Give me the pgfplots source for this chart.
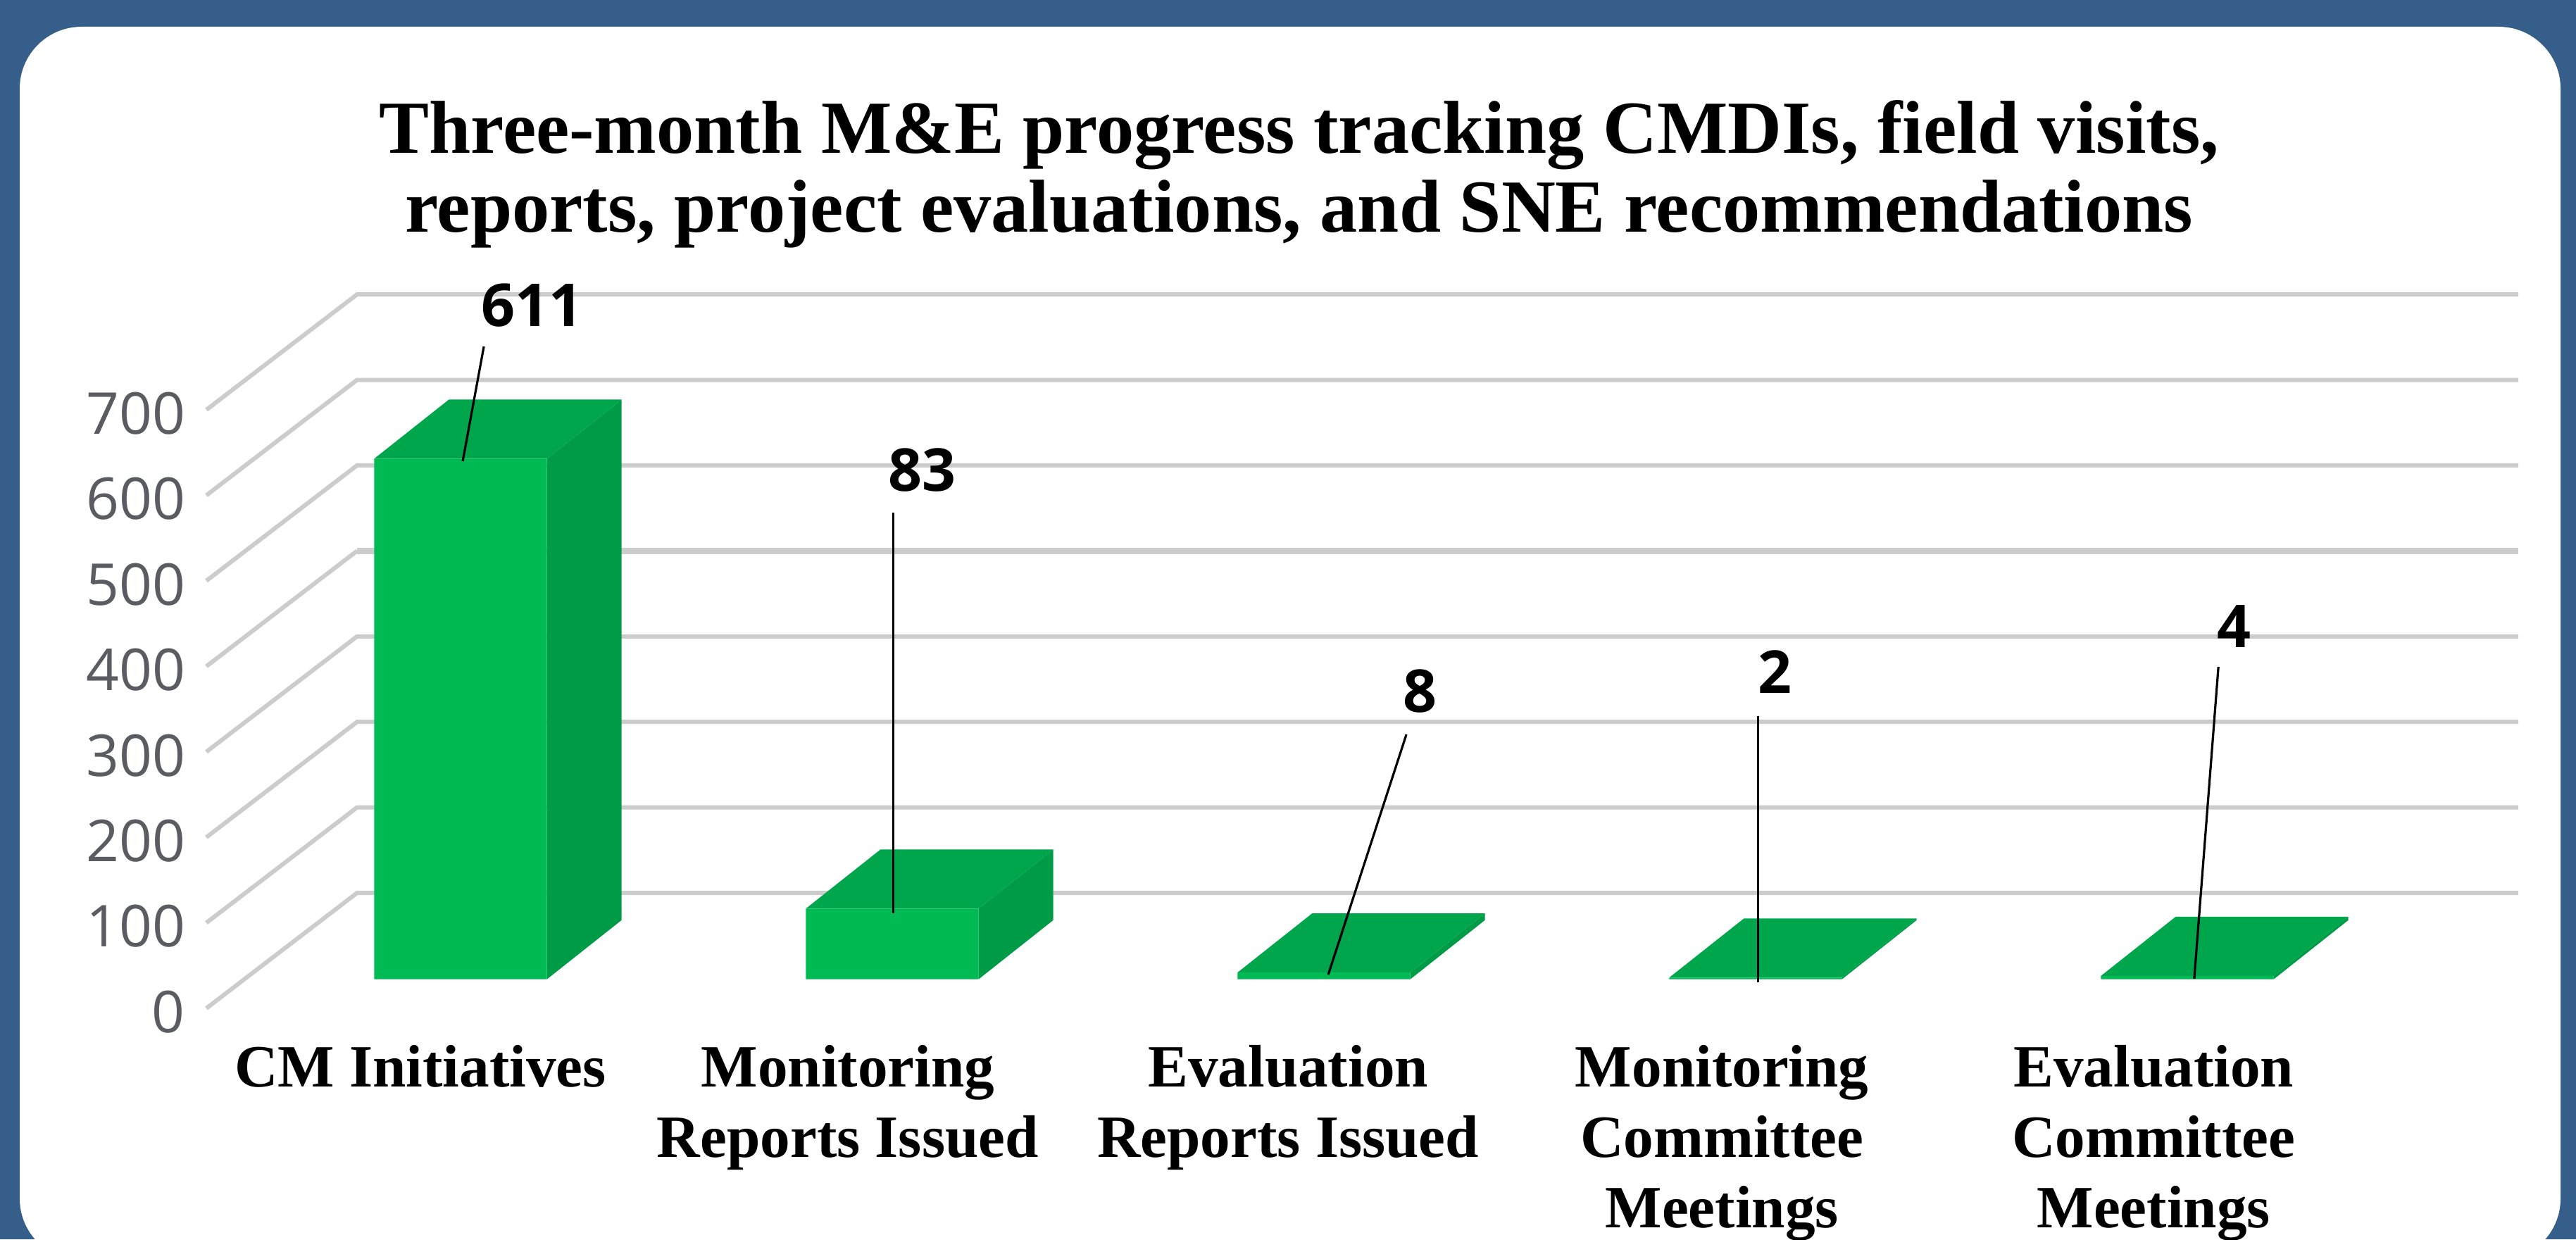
\documentclass[border=0pt]{standalone}
\usepackage{fontspec}
\usepackage{pgfplots}
\pgfplotsset{compat=1.18}
\setmainfont{Liberation Serif}
\newfontfamily\osans{Open Sans}
\definecolor{bgblue}{RGB}{53,95,138}
\definecolor{barfront}{RGB}{0,186,83}
\definecolor{bartop}{RGB}{0,166,76}
\definecolor{barside}{RGB}{0,155,70}
\definecolor{gridc}{RGB}{204,204,204}
\definecolor{tickc}{RGB}{90,92,98}
\begin{document}
\begin{tikzpicture}
\path[use as bounding box] (0,0) rectangle (914.5pt,440pt);
\fill[bgblue] (0,0) rectangle (914.5pt,440pt);
\begin{scope}
\clip (0,0) rectangle (914.5pt,440pt);
\fill[white,rounded corners=22pt] (7pt,-7.5pt) rectangle (909pt,430.5pt);
\end{scope}
% axis with value ticks and the oblique grid
\begin{axis}[
  at={(73.25pt,82pt)},anchor=south west,scale only axis,
  width=820.75pt,height=212.5pt,
  xmin=293,xmax=3576,ymin=0,ymax=700,clip=false,
  xtick=\empty,ytick={0,100,...,700},
  axis line style={draw=none},major tick length=0pt,
  /pgf/number format/assume math mode=true,
  y tick label style={font=\osans\fontsize{20.5}{24}\selectfont,text=tickc,yshift=-1.25pt,xshift=-4pt},
]
\pgfplotsinvokeforeach{0,100,200,300,500,600,700}{
  \addplot[gridc,line width=1.5pt,mark=none] coordinates {(293,#1)(507,#1+135)(3576,#1+135)};
}
\addplot[gridc,line width=1.5pt,mark=none] coordinates {(293,400)(507,535)};
\addplot[gridc,line width=2.2pt,mark=none] coordinates {(507,535)(3576,535)};
\end{axis}
% axis with the bars
\begin{axis}[
  at={(73.25pt,92.325pt)},anchor=south west,scale only axis,
  width=820.75pt,height=211.75pt,
  xmin=-0.5889,xmax=4.7667,ymin=0,ymax=700,clip=false,
  ytick=\empty,
  xtick={-0.093,0.897,1.917,2.922,3.922},
  xticklabels={{CM Initiatives},{Monitoring\\Reports Issued},{Evaluation\\Reports Issued},{Monitoring\\Committee\\Meetings},{Evaluation\\Committee\\Meetings}},
  axis line style={draw=none},major tick length=0pt,
  x tick label style={align=center,anchor=north,yshift=-20pt,font=\bfseries\fontsize{21.3}{25}\selectfont},
  title={Three-month M\&E progress tracking CMDIs, field visits,\\reports, project evaluations, and SNE recommendations},
  title style={at={(axis description cs:0.4727,1.322)},anchor=center,align=center,font=\bfseries\fontsize{26.6}{28}\selectfont},
]
% side faces
\addplot[fill=barside,draw=none,mark=none] coordinates {(0.2,0)(0.2,611)(0.373,680.4)(0.373,69.4)} -- cycle;
\addplot[fill=barside,draw=none,mark=none] coordinates {(1.2,0)(1.2,83)(1.373,152.4)(1.373,69.4)} -- cycle;
\addplot[fill=barside,draw=none,mark=none] coordinates {(2.2,0)(2.2,8)(2.373,77.4)(2.373,69.4)} -- cycle;
\addplot[fill=barside,draw=none,mark=none] coordinates {(3.2,0)(3.2,2)(3.373,71.4)(3.373,69.4)} -- cycle;
\addplot[fill=barside,draw=none,mark=none] coordinates {(4.2,0)(4.2,4)(4.373,73.4)(4.373,69.4)} -- cycle;
% top faces
\addplot[fill=bartop,draw=none,mark=none] coordinates {(-0.2,611)(0.2,611)(0.373,680.4)(-0.027,680.4)} -- cycle;
\addplot[fill=bartop,draw=none,mark=none] coordinates {(0.8,83)(1.2,83)(1.373,152.4)(0.973,152.4)} -- cycle;
\addplot[fill=bartop,draw=none,mark=none] coordinates {(1.8,8)(2.2,8)(2.373,77.4)(1.973,77.4)} -- cycle;
\addplot[fill=bartop,draw=none,mark=none] coordinates {(2.8,2)(3.2,2)(3.373,71.4)(2.973,71.4)} -- cycle;
\addplot[fill=bartop,draw=none,mark=none] coordinates {(3.8,4)(4.2,4)(4.373,73.4)(3.973,73.4)} -- cycle;
% front faces
\addplot[ybar,bar width=61.3pt,fill=barfront,draw=none,mark=none] coordinates {(0,611)(1,83)(2,8)(3,2)(4,4)};
% leader lines
\addplot[black,line width=0.8pt,mark=none] coordinates {(0.054,742.7)(0.005,608)};
\addplot[black,line width=0.8pt,mark=none] coordinates {(1.003,547.7)(1.003,77.4)};
\addplot[black,line width=0.8pt,mark=none] coordinates {(2.191,287.4)(2.010,5.5)};
\addplot[black,line width=0.8pt,mark=none] coordinates {(3.005,308.8)(3.005,-3.6)};
\addplot[black,line width=0.8pt,mark=none] coordinates {(4.072,366.7)(4.016,0.6)};
% value labels
\begin{scope}[every node/.style={font=\osans\bfseries\fontsize{21}{24}\selectfont,text=black,inner sep=0pt}]
\node at (axis cs:0.166,790.7) {611};
\node at (axis cs:1.069,598) {83};
\node at (axis cs:2.222,337.8) {8};
\node at (axis cs:3.044,360.9) {2};
\node at (axis cs:4.109,414.6) {4};
\end{scope}
\end{axis}
\end{tikzpicture}
\end{document}
